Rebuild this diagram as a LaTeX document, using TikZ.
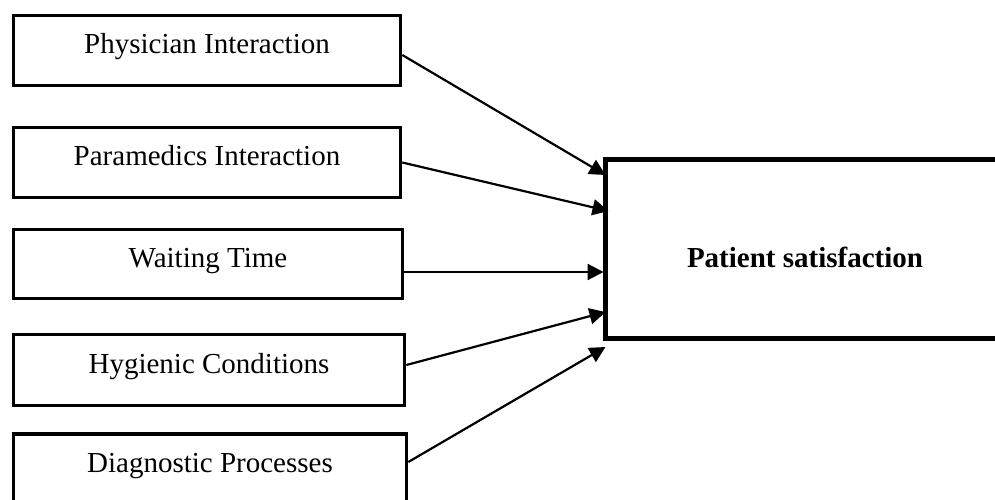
\documentclass[tikz,border=0pt]{standalone}
\usepackage{fontspec}
\setmainfont{Liberation Serif}
\usetikzlibrary{arrows.meta,calc}

\begin{document}
\begin{tikzpicture}[x=1pt,y=-1pt,
  factor/.style={draw,line width=3.6pt,fill=white,minimum height=70pt,inner sep=0pt,text height=13pt,text depth=7pt,font=\fontsize{29}{33}\selectfont},
  outcome/.style={draw,line width=5pt,fill=white,minimum width=400pt,minimum height=179pt,inner sep=0pt,text height=36pt,text depth=0pt,font=\fontsize{29}{33}\selectfont\bfseries},
  link/.style={line width=2.2pt,-{Triangle[length=16pt,width=16pt]}}]
\useasboundingbox (0,0) rectangle (995,499);
\node[factor,minimum width=387pt] (phys) at (207,50.5) {Physician Interaction};
\node[factor,minimum width=387pt] (para) at (207,162.5) {Paramedics Interaction};
\node[factor,minimum width=389pt,minimum height=69pt] (wait) at (208,264) {Waiting Time};
\node[factor,minimum width=391pt,minimum height=71pt] (hyg) at (209,370) {Hygienic Conditions};
\node[factor,minimum width=393pt] (diag) at (210,469) {Diagnostic Processes};
\node[outcome] (sat) at (805,249) {Patient satisfaction};
% arrows into the outcome box
\draw[link] ($(phys.east)+(0,4.5)$) -- ($(sat.north west)+(3,18)$);
\draw[link] (para.east) -- ($(sat.west)+(6,-38)$);
\draw[link] ($(wait.east)+(0,8)$) -- ($(sat.west)+(1,23)$);
\draw[link] ($(hyg.east)+(0,-5)$) -- ($(sat.west)+(3,63)$);
\draw[link] ($(diag.east)+(0,-7)$) -- ($(sat.south west)+(3,6)$);
\end{tikzpicture}
\end{document}
